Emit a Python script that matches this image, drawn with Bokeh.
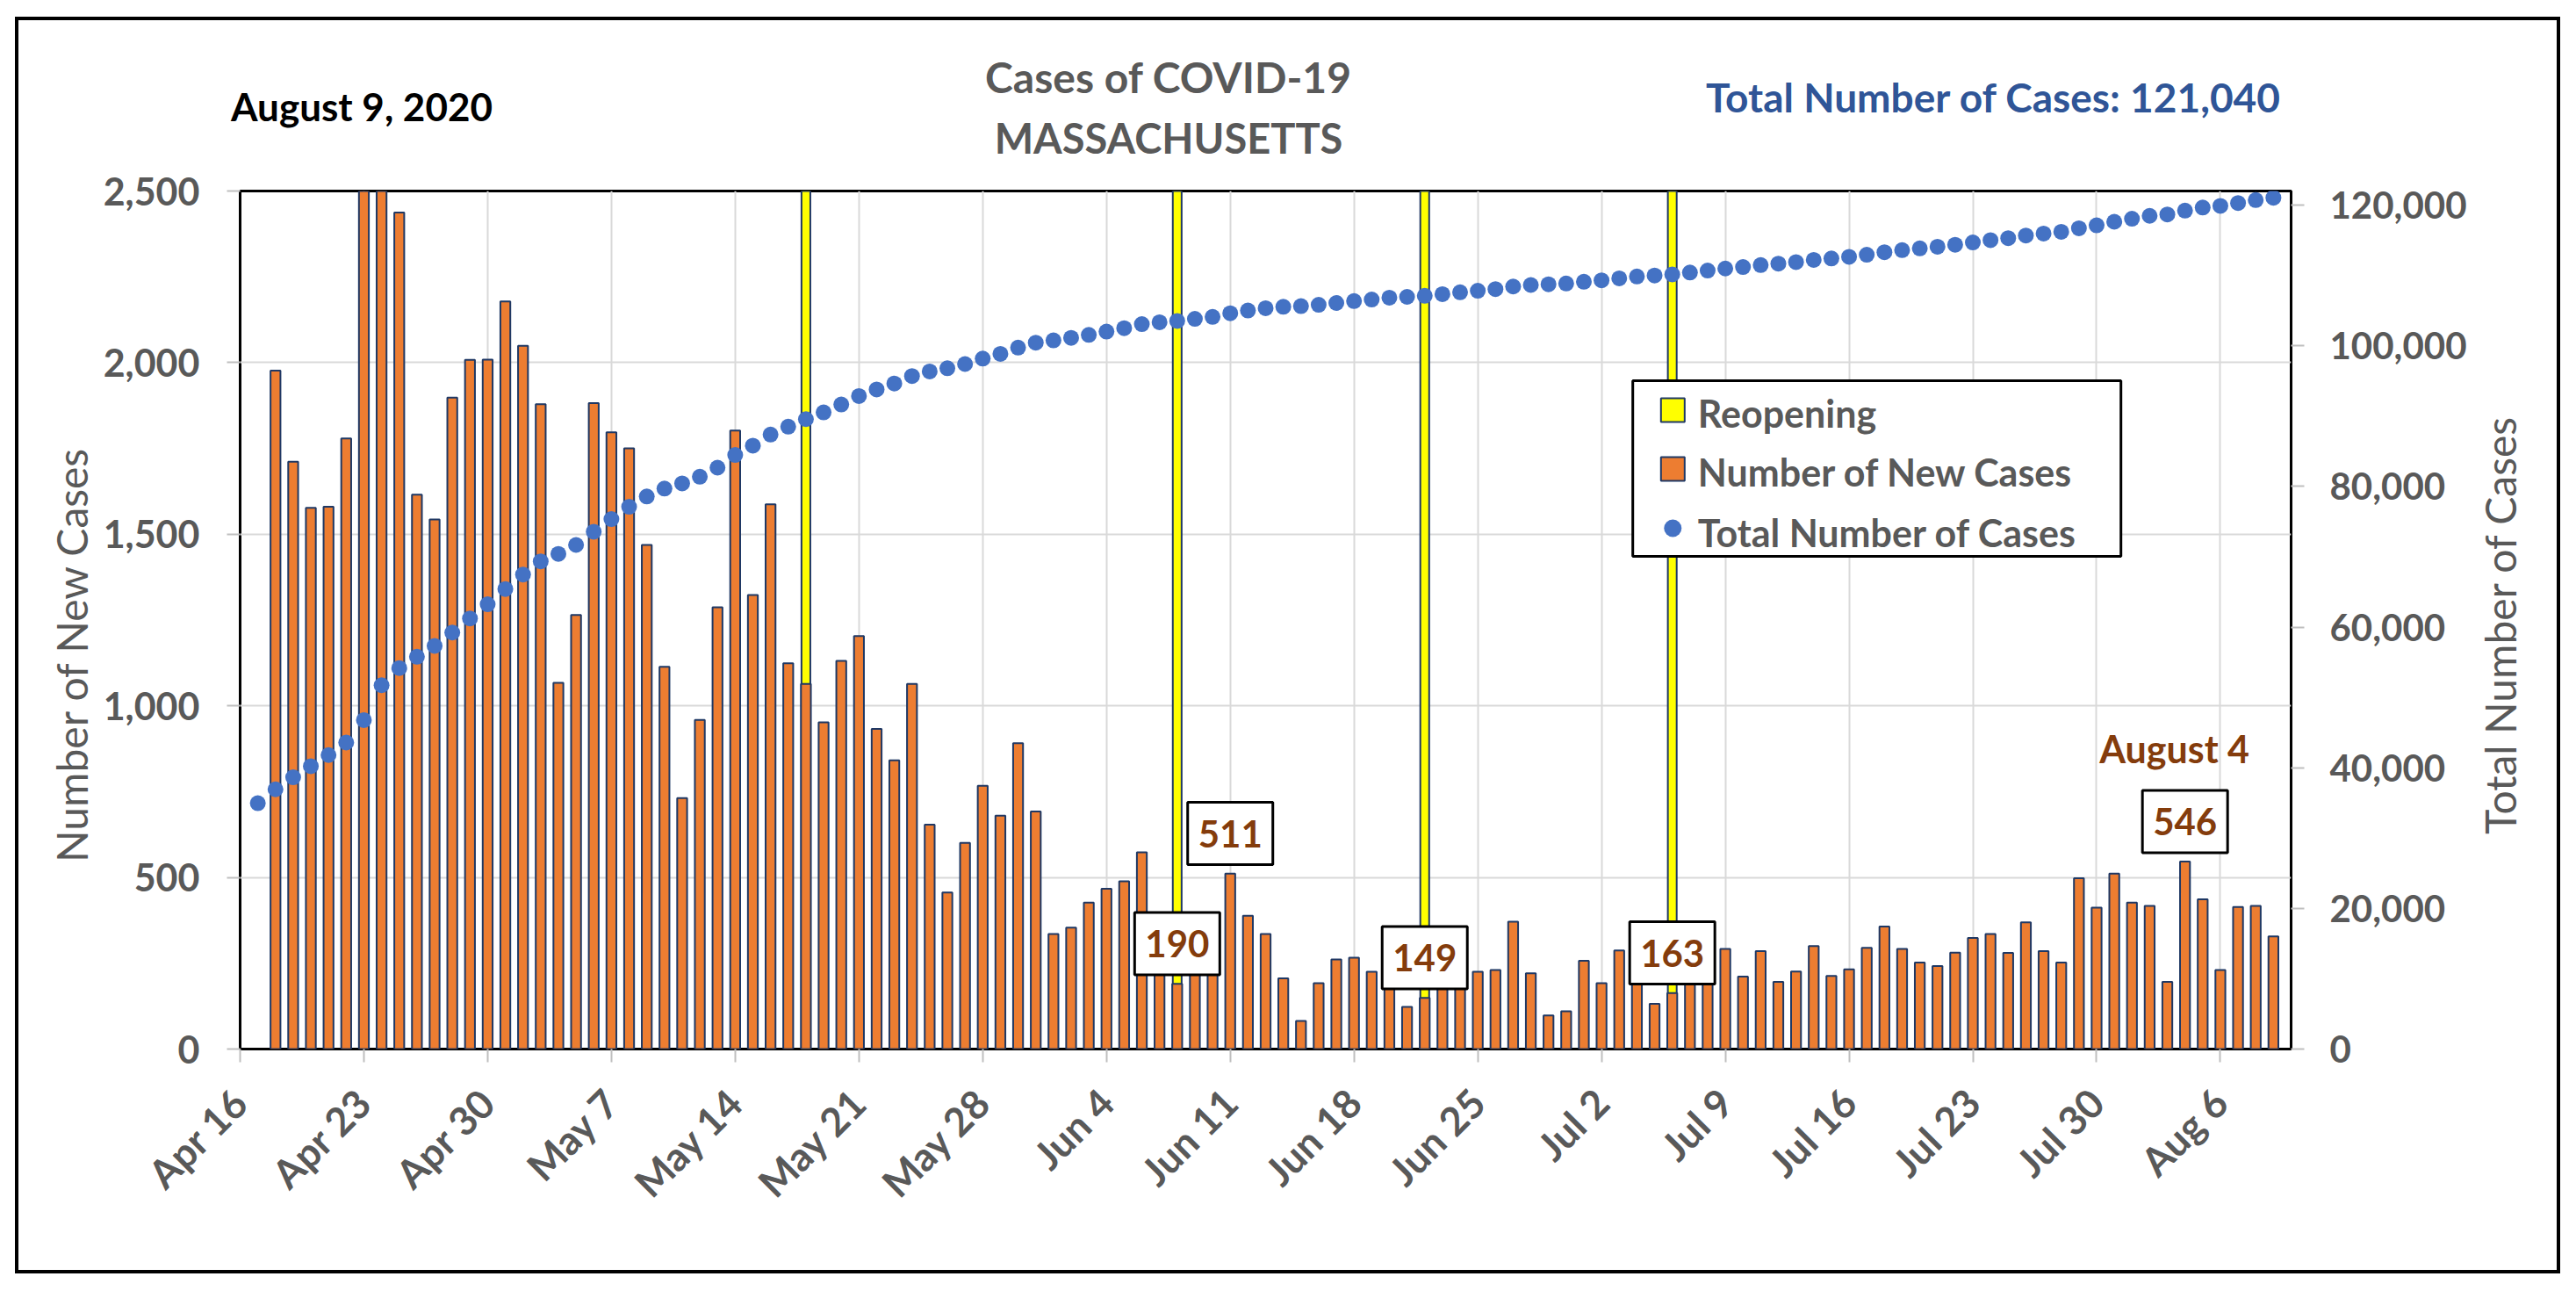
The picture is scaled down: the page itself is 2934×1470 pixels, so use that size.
import math
import datetime as dt
from bokeh.plotting import figure
from bokeh.layouts import column, row
from bokeh.models import Range1d, LinearAxis, FixedTicker, NumeralTickFormatter, Label, ColumnDataSource, Spacer
from bokeh.core.properties import value
from bokeh.embed import file_html
from bokeh.resources import INLINE

# ---------------- data ----------------
axis_start = dt.date(2020, 4, 16)          # left edge of the date axis
axis_end = dt.date(2020, 8, 10)            # right edge of the date axis

# daily new cases, Apr 18 .. Aug 9
new_cases_start = dt.date(2020, 4, 18)
new_cases = [
    1977, 1711, 1577, 1580, 1779, 3200, 4949, 2437, 1615, 1543,
    1898, 2008, 2009, 2178, 2049, 1879, 1067, 1265, 1882, 1797,
    1750, 1469, 1114, 731, 959, 1287, 1802, 1323, 1587, 1124,
    1064, 952, 1131, 1203, 933, 841, 1064, 654, 456, 601,
    767, 680, 891, 692, 335, 354, 427, 467, 489, 573,
    260, 190, 300, 280, 511, 388, 335, 206, 82, 192,
    261, 266, 225, 260, 123, 149, 240, 250, 225, 230,
    371, 221, 98, 110, 257, 192, 287, 270, 132, 163,
    260, 280, 292, 211, 285, 196, 226, 300, 213, 232,
    295, 357, 292, 252, 242, 281, 324, 335, 280, 369,
    285, 252, 498, 412, 511, 427, 417, 196, 546, 436,
    230, 414, 417, 328,
]

# total number of cases, Apr 17 .. Aug 9
total_start = dt.date(2020, 4, 17)
total_cases = [
    34955, 36932, 38643, 40220, 41800, 43579, 46779, 51728, 54165, 55780,
    57323, 59221, 61229, 63238, 65416, 67465, 69344, 70411, 71676, 73558,
    75355, 77105, 78574, 79688, 80419, 81378, 82665, 84467, 85790, 87377,
    88501, 89565, 90517, 91648, 92851, 93784, 94625, 95689, 96343, 96799,
    97400, 98167, 98847, 99738, 100430, 100765, 101119, 101546, 102013, 102502,
    103075, 103335, 103525, 103825, 104105, 104616, 105004, 105339, 105545, 105627,
    105819, 106080, 106346, 106571, 106831, 106954, 107103, 107343, 107593, 107818,
    108048, 108419, 108640, 108738, 108848, 109105, 109297, 109584, 109854, 109986,
    110149, 110409, 110689, 110981, 111192, 111477, 111673, 111899, 112199, 112412,
    112644, 112939, 113296, 113588, 113840, 114082, 114363, 114687, 115022, 115302,
    115671, 115956, 116208, 116706, 117118, 117629, 118056, 118473, 118669, 119215,
    119651, 119881, 120295, 120712, 121040,
]

reopening_dates = [dt.date(2020, 5, 18), dt.date(2020, 6, 8), dt.date(2020, 6, 22), dt.date(2020, 7, 6)]
callout_dates = [dt.date(2020, 6, 8), dt.date(2020, 6, 11), dt.date(2020, 6, 22), dt.date(2020, 7, 6), dt.date(2020, 8, 4)]
highlight_date = dt.date(2020, 8, 4)

tick_labels = ["Apr 16", "Apr 23", "Apr 30", "May 7", "May 14", "May 21", "May 28", "Jun 4",
               "Jun 11", "Jun 18", "Jun 25", "Jul 2", "Jul 9", "Jul 16", "Jul 23", "Jul 30", "Aug 6"]
left_ticks = [0, 500, 1000, 1500, 2000, 2500]
right_ticks = [0, 20000, 40000, 60000, 80000, 100000, 120000]

title_lines = ["Cases of COVID-19", "MASSACHUSETTS"]
date_text = "August 9, 2020"
total_text = "Total Number of Cases:  121,040"
legend_labels = ["Reopening", "Number of New Cases", "Total Number of Cases"]
y_title = "Number of New Cases"
y2_title = "Total Number of Cases"

# ---------------- derived positions (day offsets) ----------------
def day(d):
    return (d - axis_start).days

new_x = [day(new_cases_start) + i for i in range(len(new_cases))]
tot_x = [day(total_start) + i for i in range(len(total_cases))]
reopen_x = [day(d) for d in reopening_dates]
new_by_day = dict(zip(new_x, new_cases))
call_x = [day(d) for d in callout_dates]
call_v = [new_by_day[x] for x in call_x]

X0, X1 = 0, day(axis_end)
Y1 = 2500
Y2 = 122000

# ---------------- styling / layout constants ----------------
GRAY = "#595959"
BROWN = "#843C0C"
NAVY = "#1F3864"
FONT = "Lato"
BORDER = 4

INNER_L, INNER_T = 21, 23            # page px of the inner top-left corner of the outer border
TOTAL_W, TOTAL_H = 2891, 1423
HEAD_H = 167
LEFT_W, RIGHT_W = 92, 100
MAIN_W = TOTAL_W - LEFT_W - RIGHT_W
MAIN_H = TOTAL_H - HEAD_H
ML, MR, MT, MB = 160, 202, 27, 252
FRAME_L = INNER_L + LEFT_W + ML
FRAME_T = INNER_T + HEAD_H + MT
FRAME_W = MAIN_W - ML - MR
FRAME_H = MAIN_H - MT - MB


def px(xp, yp):
    """page pixel -> main-plot data coords (for annotation placement)"""
    return (X0 + (xp - FRAME_L) / FRAME_W * (X1 - X0),
            (FRAME_T + FRAME_H - yp) / FRAME_H * Y1)


def blank(w, h, y_range):
    f = figure(width=w, height=h, output_backend="svg", toolbar_location=None, title=None,
               x_range=Range1d(0, w), y_range=y_range, min_border=0,
               x_axis_location=None, y_axis_location=None,
               background_fill_color="white", border_fill_color="white")
    f.outline_line_color = None
    f.xgrid.visible = False
    f.ygrid.visible = False
    return f


def put(f, text, x, y, size, color, style="bold", angle=0.0):
    f.text(x=[x], y=[y], text=[text], angle=angle, text_align="center", text_baseline="middle",
           text_font=value(FONT), text_font_style=style, text_font_size=size, text_color=color)


# ---------------- header (y measured upward from header bottom) ----------------
head = blank(TOTAL_W, HEAD_H, Range1d(0, HEAD_H))
hb = INNER_T + HEAD_H
put(head, title_lines[0], 1330.5 - INNER_L, hb - 87, "48px", GRAY)
put(head, title_lines[1], 1330.5 - INNER_L, hb - 156, "47px", GRAY)
put(head, date_text, 411.5 - INNER_L, hb - 120, "44px", "black")
put(head, total_text, 2276 - INNER_L, hb - 110, "46px", "#2F5597")

# ---------------- side strips with axis titles ----------------
# (the row aligns the strips' frames with the main plot frame, so they share its y scale)
left = blank(LEFT_W, MAIN_H, Range1d(0, Y1))
put(left, y_title, 81 - INNER_L, px(0, 744.5)[1], "48px", GRAY, style="normal", angle=math.pi / 2)
right = blank(RIGHT_W, MAIN_H, Range1d(0, Y1))
rx0 = INNER_L + LEFT_W + MAIN_W
put(right, y2_title, 2847 - rx0, px(0, 711)[1], "48px", GRAY, style="normal", angle=math.pi / 2)

# ---------------- main plot ----------------
p = figure(width=MAIN_W, height=MAIN_H, output_backend="svg", toolbar_location=None, title=None,
           x_range=Range1d(X0, X1), y_range=Range1d(0, Y1),
           min_border_left=ML, min_border_right=MR, min_border_top=MT, min_border_bottom=MB,
           background_fill_color="white", border_fill_color="white")
p.extra_y_ranges = {"total": Range1d(0, Y2)}
p.outline_line_color = "black"
p.outline_line_width = 3

p.xgrid.ticker = FixedTicker(ticks=list(range(0, X1, 7)))
p.ygrid.ticker = FixedTicker(ticks=left_ticks)
for g in (p.xgrid, p.ygrid):
    g.grid_line_color = "#D9D9D9"
    g.grid_line_width = 2

xa = p.xaxis[0]
xa.ticker = FixedTicker(ticks=[7 * i for i in range(len(tick_labels))])
xa.major_label_overrides = {7 * i: t for i, t in enumerate(tick_labels)}
xa.major_label_orientation = math.pi / 4

ya = p.yaxis[0]
ya.ticker = FixedTicker(ticks=left_ticks)
ya.formatter = NumeralTickFormatter(format="0,0")

ra = LinearAxis(y_range_name="total", ticker=FixedTicker(ticks=right_ticks),
                formatter=NumeralTickFormatter(format="0,0"))
p.add_layout(ra, "right")

for ax, fs, so in ((xa, "45px", 38), (ya, "43px", 31), (ra, "42px", 29)):
    ax.axis_line_color = None
    ax.major_tick_in = 0
    ax.major_tick_out = 15
    ax.major_tick_line_color = "#BFBFBF"
    ax.major_tick_line_width = 2
    ax.minor_tick_line_color = None
    ax.major_label_text_font = FONT
    ax.major_label_text_font_style = "bold"
    ax.major_label_text_font_size = fs
    ax.major_label_text_color = GRAY
    ax.major_label_standoff = so

# bars and points
p.vbar(x=reopen_x, top=Y1, bottom=0, width=0.5, fill_color="#FFFF00",
       line_color=NAVY, line_width=2)
src = ColumnDataSource(dict(x=new_x, top=new_cases))
p.vbar(x="x", top="top", bottom=0, width=0.56, source=src, fill_color="#ED7D31",
       line_color=NAVY, line_width=2)
p.scatter(x=tot_x, y=total_cases, y_range_name="total", size=18,
          fill_color="#4472C4", line_color=None)

# callout boxes
box_off = 117
p.rect(x=call_x, y=[v + box_off for v in call_v], width=97, height=71,
       width_units="screen", height_units="screen",
       fill_color="white", line_color="black", line_width=3)
p.text(x=call_x, y=[v + box_off for v in call_v], text=[str(v) for v in call_v],
       text_align="center", text_baseline="middle", text_font=value(FONT),
       text_font_style="bold", text_font_size="42px", text_color=BROWN)

hx = day(highlight_date)
p.add_layout(Label(x=hx - 0.6, y=new_by_day[hx] + 329, text="August 4", text_align="center",
                   text_baseline="middle", text_font=FONT, text_font_style="bold",
                   text_font_size="43px", text_color=BROWN))

# legend (drawn manually to match the boxed Excel legend)
lx, ly = px(2138, 533)
p.rect(x=[lx], y=[ly], width=556, height=200, width_units="screen", height_units="screen",
       fill_color="white", line_color="black", line_width=3)
sx, s1 = px(1905.5, 466.5)
_, s2 = px(1905.5, 533.5)
_, s3 = px(1905, 601)
p.rect(x=[sx], y=[s1], width=27, height=27, width_units="screen", height_units="screen",
       fill_color="#FFFF00", line_color=NAVY, line_width=2)
p.rect(x=[sx], y=[s2], width=27, height=27, width_units="screen", height_units="screen",
       fill_color="#ED7D31", line_color=NAVY, line_width=2)
p.scatter(x=[sx], y=[s3], size=20, fill_color="#4472C4", line_color=None)
tx, _ = px(1934, 0)
ty = [px(0, b)[1] for b in (470, 537, 606)]
p.text(x=[tx] * 3, y=ty, text=legend_labels, text_align="left", text_baseline="middle",
       text_font=value(FONT), text_font_style="bold", text_font_size="43px", text_color=GRAY)

framed = column(head, row(left, p, right), styles={"border": f"{BORDER}px solid black"})
page = column(Spacer(height=INNER_T - BORDER), row(Spacer(width=INNER_L - BORDER), framed))

open("out.html", "w").write(file_html(page, INLINE))
